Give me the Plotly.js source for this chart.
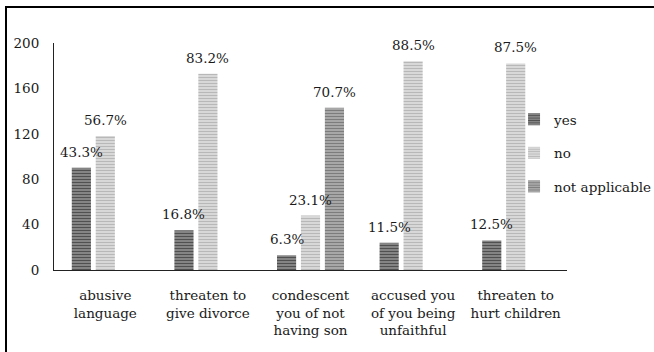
<!DOCTYPE html>
<html>
<head>
<meta charset="utf-8">
<script src="https://cdn.plot.ly/plotly-3.0.1.min.js"></script>
<style>
  html, body { margin: 0; padding: 0; background: #fff; }
  #wrap { position: relative; width: 654px; height: 352px; overflow: hidden; }
  #chart { position: absolute; left: 0; top: 0; width: 654px; height: 352px; }
  #frame { position: absolute; left: 5px; top: 6px; width: 660px; height: 360px;
           border-top: 2px solid #000; border-left: 2px solid #000; pointer-events: none; }
</style>
</head>
<body>
<div id="wrap">
  <div id="chart"></div>
  <div id="frame"></div>
</div>
<script>
const categories = [
  "abusive<br>language",
  "threaten to<br>give divorce",
  "condescent<br>you of not<br>having son",
  "accused you<br>of you being<br>unfaithful",
  "threaten to<br>hurt children"
];
const yesValues = [90, 35, 13, 24, 26];
const noValues  = [118, 173, 48, 184, 182];
const naValues  = [null, null, 143, null, null];
const yesPct = ["43.3%", "16.8%", "6.3%", "11.5%", "12.5%"];
const noPct  = ["56.7%", "83.2%", "23.1%", "88.5%", "87.5%"];
const naPct  = [null, null, "70.7%", null, null];
const yTicks = [0, 40, 80, 120, 160, 200];

const FONT = "DejaVu Serif";
const fontSpec = {family: FONT, size: 13.5, color: "#1a1a1a"};

function bar(name, y, bg, fg) {
  return {
    type: "bar", name: name, x: categories, y: y, legendgroup: name,
    marker: {color: bg, line: {width: 0},
             pattern: {shape: "-", fgcolor: fg, bgcolor: bg, size: 3, solidity: 0.4}},
    hoverinfo: "skip"
  };
}

const traces = [
  bar("yes", yesValues, "#8a8a8a", "#505050"),
  bar("no", noValues, "#dcdcdc", "#b8b8b8"),
  bar("not applicable", naValues, "#acacac", "#7c7c7c")
];

const annotations = [];
[[yesValues, yesPct, -24], [noValues, noPct, 0], [naValues, naPct, 24]].forEach(([vals, pcts, dx]) => {
  vals.forEach((v, i) => {
    if (v === null || pcts[i] === null) return;
    annotations.push({x: categories[i], y: v, text: pcts[i], showarrow: false,
      xanchor: "center", yanchor: "bottom", xshift: dx, yshift: 6, font: fontSpec});
  });
});

const layout = {
  width: 654, height: 352,
  margin: {l: 54, r: 87, t: 43, b: 82, autoexpand: false},
  paper_bgcolor: "#fff", plot_bgcolor: "#fff",
  font: fontSpec,
  barmode: "group", bargap: 0.3, bargroupgap: 0.2,
  showlegend: true,
  legend: {xref: "container", yref: "container", x: 0.786, xanchor: "left",
           y: 1 - 104 / 352, yanchor: "top", font: fontSpec,
           tracegroupgap: 13, bgcolor: "rgba(0,0,0,0)", itemwidth: 30},
  xaxis: {showline: true, linecolor: "#222", linewidth: 1, showgrid: false, zeroline: false,
          ticks: "", tickfont: fontSpec, ticklabelstandoff: 13},
  yaxis: {range: [0, 200], tickvals: yTicks, showline: true, linecolor: "#222", linewidth: 1,
          showgrid: false, zeroline: false, ticks: "", tickfont: fontSpec, ticklabelstandoff: 11},
  annotations: annotations
};

Plotly.newPlot("chart", traces, layout, {displayModeBar: false, staticPlot: true});
</script>
</body>
</html>
